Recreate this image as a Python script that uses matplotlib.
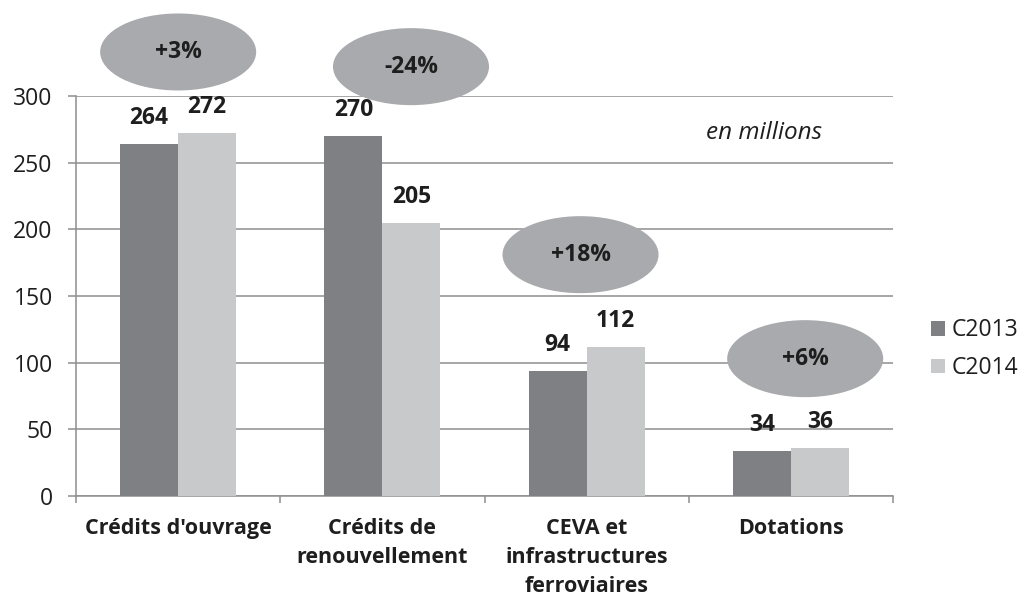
import matplotlib.pyplot as plt
import numpy as np
from matplotlib.patches import Ellipse

plt.rcParams['font.family'] = ['Open Sans', 'DejaVu Sans']

# data
categories = ["Crédits d'ouvrage", "Crédits de\nrenouvellement",
              "CEVA et\ninfrastructures\nferroviaires", "Dotations"]
c2013 = [264, 270, 94, 34]
c2014 = [272, 205, 112, 36]
changes = ["+3%", "-24%", "+18%", "+6%"]
# ellipse centres, relative to the category (x offset) and in data units (y)
bubble_dx = [0.00, 0.14, -0.03, 0.07]
bubble_y = [333, 322, 181, 103]

dark = '#7f8084'
light = '#c8c9cb'
bubble = '#a9aaad'
grid = '#8e8e8e'
txt = '#1e1e1e'

fig = plt.figure(figsize=(10.22, 6.01), dpi=100)
ax = fig.add_axes([0.0744, 0.1747, 0.7994, 0.6656])

x = np.arange(len(categories))
w = 0.284
b1 = ax.bar(x - w / 2, c2013, w, color=dark, label='C2013', zorder=3)
b2 = ax.bar(x + w / 2, c2014, w, color=light, label='C2014', zorder=3)

# value labels
for bars, vals in [(b1, c2013), (b2, c2014)]:
    for r, v in zip(bars, vals):
        ax.annotate(str(v), (r.get_x() + r.get_width() / 2, v),
                    xytext=(0, 18.7), textcoords='offset points',
                    ha='center', va='center', fontsize=16.5,
                    fontweight='bold', color=txt, zorder=5)

# change bubbles
for i, (lab, dx, yy) in enumerate(zip(changes, bubble_dx, bubble_y)):
    e = Ellipse((i + dx, yy), 0.764, 57.75, facecolor=bubble,
                edgecolor='none', clip_on=False, zorder=4)
    ax.add_patch(e)
    ax.text(i + dx, yy, lab, ha='center', va='center', fontsize=16.5,
            fontweight='bold', color=txt, zorder=6, clip_on=False)

ax.set_xlim(-0.5, 3.5)
ax.set_ylim(0, 300)
ax.set_yticks(range(0, 301, 50))
ax.yaxis.grid(True, color=grid, linewidth=1.1, zorder=0)
ax.set_axisbelow(True)

for s in ['top', 'right']:
    ax.spines[s].set_visible(False)
for s in ['left', 'bottom']:
    ax.spines[s].set_color(grid)
    ax.spines[s].set_linewidth(1.1)

ax.tick_params(axis='y', length=5.8, width=1.1, color=grid, pad=11,
               labelsize=16.5, labelcolor=txt)
ax.set_xticks(x)
ax.set_xticklabels(categories, fontsize=15.5, fontweight='bold', color=txt,
                   linespacing=1.5)
ax.tick_params(axis='x', which='major', length=0, pad=16)
ax.set_xticks(np.arange(-0.5, 4, 1), minor=True)
ax.tick_params(axis='x', which='minor', length=5, width=1.1, color=grid)

fig.text(0.691, 0.779, 'en millions', fontsize=17.5, style='italic',
         color=txt, va='center', ha='left')

ax.legend(loc='center left', bbox_to_anchor=(0.911, 0.419),
          bbox_transform=fig.transFigure, frameon=False, fontsize=16.5,
          handlelength=0.6, handleheight=0.6, handletextpad=0.3,
          labelspacing=0.6, borderpad=0, borderaxespad=0, labelcolor=txt)

plt.savefig('out.png', dpi=100)
